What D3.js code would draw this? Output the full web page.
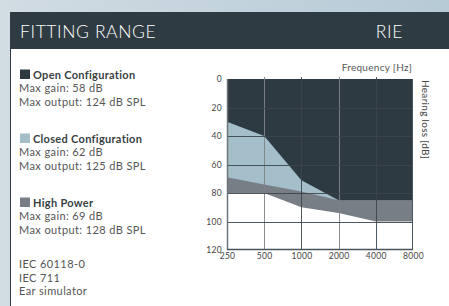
<!DOCTYPE html>
<html>
<head>
<meta charset="utf-8">
<script src="https://cdn.jsdelivr.net/npm/d3@7"></script>
<style>
  html, body { margin: 0; padding: 0; }
  body { width: 449px; height: 306px; overflow: hidden; font-family: Lato, sans-serif; }
</style>
</head>
<body>
<div id="chart"></div>
<script>
// audiogram data
var freqs = [250, 500, 1000, 2000, 4000, 8000];
var openLimit = [30, 40, 71, 85, 85, 85];
var closedLimit = [69, 74, 79, 85, 85, 85];
var highPowerLimit = [80, 80, 90, 94, 100, 100];
var lossTicks = [0, 20, 40, 60, 80, 100, 120];

var configNames = ['Open Configuration', 'Closed Configuration', 'High Power'];
var maxGain = [58, 62, 69];
var maxOutput = [124, 125, 128];
var standards = ['IEC 60118-0', 'IEC 711', 'Ear simulator'];

var colors = ['#2e3a42', '#a4bfca', '#787e86'];
var dark = '#2f3b43';

var W = 449, H = 306;
var svg = d3.select('#chart').append('svg')
  .attr('width', W)
  .attr('height', H)
  .attr('viewBox', '0 0 ' + W + ' ' + H);

// page background
var grad = svg.append('defs').append('linearGradient')
  .attr('id', 'bg')
  .attr('x1', 0).attr('x2', 1).attr('y1', 0).attr('y2', 0);
grad.append('stop').attr('offset', 0).attr('stop-color', '#d1dce3');
grad.append('stop').attr('offset', 1).attr('stop-color', '#b6cad6');
svg.append('rect').attr('width', W).attr('height', H).attr('fill', 'url(#bg)');

// card
svg.append('rect').attr('x', 10).attr('y', 12).attr('width', W - 10).attr('height', H - 12).attr('fill', '#fff');
svg.append('rect').attr('x', 10).attr('y', 12).attr('width', W - 10).attr('height', 37).attr('fill', dark);
svg.append('rect').attr('x', 10).attr('y', 12).attr('width', 1).attr('height', H - 12).attr('fill', dark);

svg.append('text').attr('x', 20).attr('y', 38)
  .attr('fill', '#fff').attr('font-size', 17.5).attr('font-weight', 300)
  .attr('letter-spacing', 0.6)
  .text('FITTING RANGE');
svg.append('text').attr('x', 403).attr('y', 38)
  .attr('text-anchor', 'end')
  .attr('fill', '#fff').attr('font-size', 17.5).attr('font-weight', 300)
  .attr('letter-spacing', 0.6)
  .text('RIE');

// legend blocks
var blockTop = [79, 143, 207];
var lineGap = 13.3;
configNames.forEach(function(name, i) {
  var g = svg.append('g').attr('transform', 'translate(20,' + blockTop[i] + ')');
  g.append('rect').attr('x', 0).attr('y', -9.5).attr('width', 10).attr('height', 9.5).attr('fill', colors[i]);
  g.append('text').attr('x', 13).attr('y', 0)
    .attr('font-size', 11).attr('font-weight', 700).attr('fill', '#3a3f44')
    .attr('letter-spacing', 0.3)
    .text(name);
  g.append('text').attr('x', -1).attr('y', lineGap)
    .attr('font-size', 11).attr('fill', '#555')
    .attr('letter-spacing', 0.4)
    .text('Max gain: ' + maxGain[i] + ' dB');
  g.append('text').attr('x', -1).attr('y', lineGap * 2)
    .attr('font-size', 11).attr('fill', '#555')
    .attr('letter-spacing', 0.4)
    .text('Max output: ' + maxOutput[i] + ' dB SPL');
});

standards.forEach(function(s, i) {
  svg.append('text').attr('x', 19).attr('y', 268 + i * 13.5)
    .attr('font-size', 11).attr('fill', '#555')
    .attr('letter-spacing', 0.4)
    .text(s);
});

// chart
var x = d3.scaleLog().base(2).domain([250, 8000]).range([227, 413]);
var y = d3.scaleLinear().domain([0, 120]).range([79, 250]);

var plot = svg.append('g');

function band(values) {
  return d3.area()
    .x(function(d, i) { return x(freqs[i]); })
    .y0(y(0))
    .y1(function(d) { return y(d); })(values);
}

plot.append('path').attr('d', band(highPowerLimit)).attr('fill', colors[2]);
plot.append('path').attr('d', band(closedLimit)).attr('fill', colors[1]);
plot.append('path').attr('d', band(openLimit)).attr('fill', colors[0]);

// grid
plot.selectAll('.vgrid')
  .data(freqs.slice(1, -1))
  .enter().append('line')
  .attr('x1', function(d) { return Math.round(x(d)) + 0.5; })
  .attr('x2', function(d) { return Math.round(x(d)) + 0.5; })
  .attr('y1', y(0) - 2)
  .attr('y2', y(120))
  .attr('stroke', function(d, i) { return i % 2 ? '#3c464d' : '#7d8388'; })
  .attr('stroke-opacity', 0.9)
  .attr('stroke-width', 1);

plot.selectAll('.hgrid')
  .data(lossTicks.slice(1, -1))
  .enter().append('line')
  .attr('x1', x(250))
  .attr('x2', x(8000))
  .attr('y1', function(d) { return Math.round(y(d)) + 0.5; })
  .attr('y2', function(d) { return Math.round(y(d)) + 0.5; })
  .attr('stroke', '#3c464d')
  .attr('stroke-opacity', 0.9);

// frame
plot.append('line')
  .attr('x1', Math.round(x(250)) + 0.5).attr('x2', Math.round(x(250)) + 0.5)
  .attr('y1', y(0)).attr('y2', y(120))
  .attr('stroke', '#6c747a').attr('stroke-width', 1.5);
plot.append('line')
  .attr('x1', Math.round(x(8000)) - 0.5).attr('x2', Math.round(x(8000)) - 0.5)
  .attr('y1', y(0)).attr('y2', y(120))
  .attr('stroke', '#4a545b').attr('stroke-width', 1);
plot.append('line')
  .attr('x1', x(250)).attr('x2', x(8000))
  .attr('y1', Math.round(y(120)) - 0.5).attr('y2', Math.round(y(120)) - 0.5)
  .attr('stroke', '#4a545b').attr('stroke-width', 1.5);

// axes
var xAxis = svg.append('g')
  .attr('transform', 'translate(0,' + y(120) + ')')
  .call(d3.axisBottom(x).tickValues(freqs).tickFormat(d3.format('d')).tickSize(0).tickPadding(3));
var yAxis = svg.append('g')
  .attr('transform', 'translate(' + x(250) + ',0)')
  .call(d3.axisLeft(y).tickValues(lossTicks).tickSize(0).tickPadding(5));

[xAxis, yAxis].forEach(function(a) {
  a.select('.domain').remove();
  a.selectAll('text').attr('font-family', 'Lato, sans-serif').attr('font-size', 8.5).attr('fill', '#444')
    .attr('letter-spacing', 0.3);
});

svg.append('text').attr('x', 412).attr('y', 71)
  .attr('text-anchor', 'end')
  .attr('font-size', 10).attr('fill', '#555')
  .attr('letter-spacing', 0.3)
  .text('Frequency [Hz]');
svg.append('text')
  .attr('transform', 'translate(422,80) rotate(90)')
  .attr('font-size', 10).attr('fill', '#444')
  .attr('letter-spacing', 0.3)
  .text('Hearing loss [dB]');
</script>
</body>
</html>
